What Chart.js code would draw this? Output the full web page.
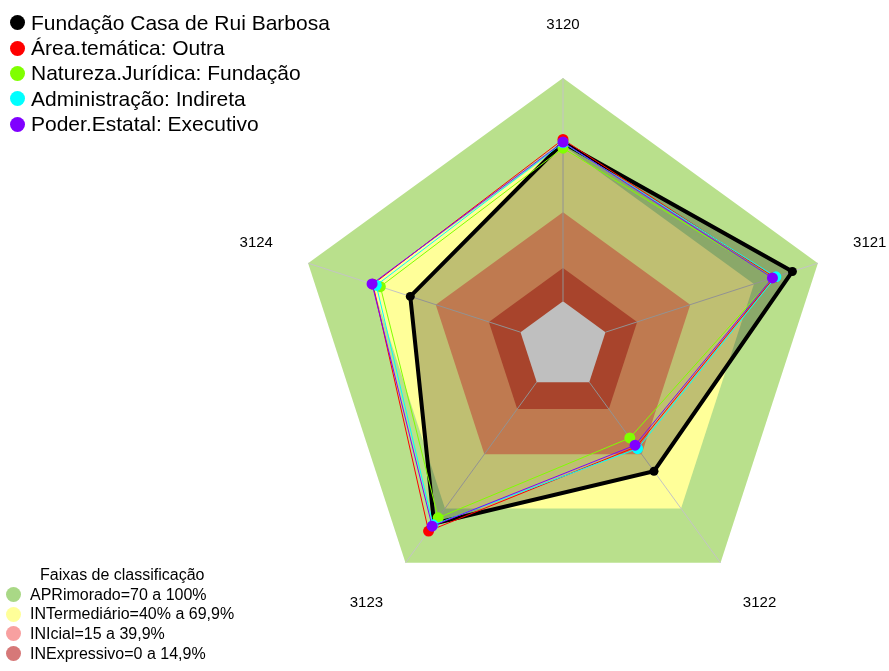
<!DOCTYPE html>
<html>
<head>
<meta charset="utf-8">
<script src="https://cdn.jsdelivr.net/npm/chart.js@4.4.1/dist/chart.umd.min.js"></script>
<style>
  body { margin: 0; background: #fff; overflow: hidden; font-family: "Liberation Sans", Arial, sans-serif; }
  #wrap { position: relative; width: 889px; height: 671px; overflow: hidden; }
  /* o canvas sobra um pouco acima e à direita para o rótulo 3120 ficar no topo */
  canvas { position: absolute; left: 0; top: -15px; }
  .legend { position: absolute; left: 0; color: #000; }
  .legend .row { display: flex; align-items: center; white-space: nowrap; }
  .legend .dot { border-radius: 50%; flex: none; }
  #seriesLegend { top: 10px; font-size: 21px; }
  #seriesLegend .row { height: 25.4px; }
  #seriesLegend .dot { width: 15px; height: 15px; margin: 0 6px 0 10px; }
  #bandLegend { top: 565px; font-size: 16px; }
  #bandLegend .title { margin-left: 40px; height: 20px; line-height: 20px; }
  #bandLegend .row { height: 19.6px; }
  #bandLegend .dot { width: 15px; height: 15px; margin: 0 9px 0 6px; }
</style>
</head>
<body>
<div id="wrap">
  <canvas id="radarChart" width="899" height="686"></canvas>
  <div class="legend" id="seriesLegend"></div>
  <div class="legend" id="bandLegend"><div class="title">Faixas de classificação</div></div>
</div>
<script>
// Eixos (indicadores)
const axisLabels = ['3120', '3121', '3122', '3123', '3124'];

// Séries
const seriesNames = [
    'Fundação Casa de Rui Barbosa',
    'Área.temática: Outra',
    'Natureza.Jurídica: Fundação',
    'Administração: Indireta',
    'Poder.Estatal: Executivo'
];
const casaRuiBarbosa   = [71.0, 88.0, 49.3, 78.2, 51.9];
const areaTematica     = [72.5, 79.5, 35.8, 82.4, 69.5];
const naturezaJuridica = [68.6, 79.0, 30.9, 75.1, 66.0];
const administracao    = [71.0, 80.2, 36.8, 79.0, 67.9];
const poderEstatal     = [71.3, 78.6, 34.9, 79.7, 69.9];
const seriesColors = ['#000000', '#ff0000', '#80ff00', '#00ffff', '#8000ff'];

// Faixas de classificação (limite superior de cada faixa)
const bandNames = ['APRimorado=70 a 100%', 'INTermediário=40% a 69,9%', 'INIcial=15 a 39,9%', 'INExpressivo=0 a 14,9%'];
const bandLimits = [100, 69.9, 39.9, 14.9];
const bandColors = ['#b9e08c', '#ffff99', '#ffa36b', '#e05b3b'];
const bandLegendColors = ['#a9d886', '#ffff99', '#f8a0a0', '#d67878'];

// Faixas desenhadas atrás das séries, com as linhas dos eixos por cima
const bandsPlugin = {
    id: 'bands',
    beforeDatasetsDraw(chart) {
        const scale = chart.scales.r;
        const ctx = chart.ctx;
        const poly = (value) => {
            ctx.beginPath();
            axisLabels.forEach((_, i) => {
                const p = scale.getPointPositionForValue(i, value);
                if (i === 0) ctx.moveTo(p.x, p.y); else ctx.lineTo(p.x, p.y);
            });
            ctx.closePath();
        };
        ctx.save();
        bandLimits.forEach((v, k) => {
            poly(v);
            ctx.fillStyle = bandColors[k];
            ctx.fill();
        });
        poly(0);
        ctx.fillStyle = '#ffffff';
        ctx.fill();
        ctx.strokeStyle = '#c4c4c4';
        ctx.lineWidth = 1;
        axisLabels.forEach((_, i) => {
            const a = scale.getPointPositionForValue(i, 0);
            const b = scale.getPointPositionForValue(i, 100);
            ctx.beginPath();
            ctx.moveTo(a.x, a.y);
            ctx.lineTo(b.x, b.y);
            ctx.stroke();
        });
        ctx.restore();
    }
};

const allSeries = [casaRuiBarbosa, areaTematica, naturezaJuridica, administracao, poderEstatal];

const datasets = allSeries.map((values, k) => ({
    label: seriesNames[k],
    data: values,
    borderColor: seriesColors[k],
    backgroundColor: k === 0 ? 'rgba(0,0,0,0.25)' : 'transparent',
    fill: k === 0 ? 'start' : false,
    borderWidth: k === 0 ? 4 : 1,
    pointRadius: k === 0 ? 4.5 : 5.5,
    pointBackgroundColor: seriesColors[k],
    pointBorderWidth: 0,
    order: allSeries.length - k   // roxo por cima, preto por baixo
}));

const radarCtx = document.getElementById('radarChart').getContext('2d');
const radarChart = new Chart(radarCtx, {
    type: 'radar',
    data: { labels: axisLabels, datasets: datasets },
    options: {
        responsive: false,
        animation: false,
        layout: { padding: { top: 0, bottom: 26, left: 227, right: 0 } },
        plugins: {
            legend: { display: false }, // legendas em HTML
            tooltip: { enabled: false }
        },
        scales: {
            r: {
                min: -20,
                max: 100,
                ticks: { display: false },
                grid: { display: false },
                angleLines: { display: false },
                pointLabels: {
                    color: '#000',
                    font: { family: '"Liberation Sans", Arial, sans-serif', size: 15 },
                    padding: (c) => [44, 37, 38, 38, 37][c.index]
                }
            }
        }
    },
    plugins: [bandsPlugin]
});

// Legendas
const seriesLegend = document.getElementById('seriesLegend');
seriesNames.forEach((name, k) => {
    const row = document.createElement('div');
    row.className = 'row';
    row.innerHTML = '<span class="dot" style="background:' + seriesColors[k] + '"></span><span>' + name + '</span>';
    seriesLegend.appendChild(row);
});
const bandLegend = document.getElementById('bandLegend');
bandNames.forEach((name, k) => {
    const row = document.createElement('div');
    row.className = 'row';
    row.innerHTML = '<span class="dot" style="background:' + bandLegendColors[k] + '"></span><span>' + name + '</span>';
    bandLegend.appendChild(row);
});
</script>
</body>
</html>
